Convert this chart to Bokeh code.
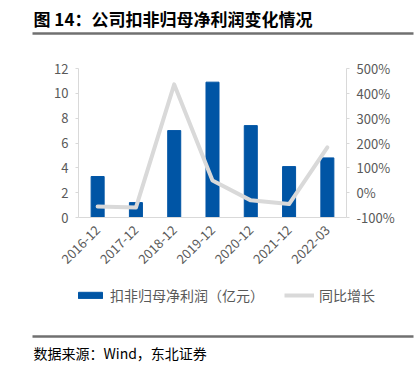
import math
from bokeh.plotting import figure
from bokeh.core.properties import value
from bokeh.models import (ColumnDataSource, FactorRange, Range1d, LinearAxis, Legend, LegendItem,
                          FixedTicker, NumeralTickFormatter)
from bokeh.embed import file_html
from bokeh.resources import INLINE

categories = ["2016-12", "2017-12", "2018-12", "2019-12", "2020-12", "2021-12", "2022-03"]
profit = [3.3, 1.2, 7.0, 10.9, 7.4, 4.1, 4.8]          # 扣非归母净利润（亿元）
growth = [-0.56, -0.60, 4.36, 0.49, -0.31, -0.46, 1.82]  # 同比增长
left_ticks = [0, 2, 4, 6, 8, 10, 12]
right_ticks = [-1, 0, 1, 2, 3, 4, 5]
series_names = ["扣非归母净利润（亿元）", "同比增长"]

title_text = "图 14：公司扣非归母净利润变化情况"
source_text = "数据来源：Wind，东北证券"

W = 415
FONT = "Noto Sans CJK SC"
GRAY = "#595959"
AXIS = "#d9d9d9"
RULE = "#707070"
BAR = "#0055a5"
LINE = "#d9d9d9"


def deco_figure(h):
    f = figure(width=W, height=h, x_range=Range1d(0, W), y_range=Range1d(h, 0),
               output_backend="svg", toolbar_location=None, min_border=0)
    f.axis.visible = False
    f.grid.visible = False
    f.outline_line_color = None
    f.border_fill_color = None
    f.background_fill_color = None
    return f


# header: title + rule (legend-style dummy keeps this figure laid out like the footer)
head = deco_figure(50)
head.text(x=[33], y=[18], text=[title_text], text_baseline="middle", text_align="left",
          text_font=value(FONT), text_font_style="bold", text_font_size="17px", text_color="#000000")
head.segment(x0=[32], y0=[33], x1=[413], y1=[33], line_color=RULE, line_width=2.5)

# main chart
src = ColumnDataSource(dict(cat=categories, profit=profit, growth=growth))

p = figure(frame_width=268, frame_height=149, x_range=FactorRange(*categories, range_padding=0),
           y_range=Range1d(0, 12), output_backend="svg", toolbar_location=None,
           min_border_left=78, min_border_right=W - 78 - 268, min_border_top=18, min_border_bottom=63)
p.outline_line_color = None
p.xgrid.visible = False
p.ygrid.visible = False
p.border_fill_color = None
p.background_fill_color = None

p.extra_y_ranges = {"pct": Range1d(-1, 5)}

p.vbar(x="cat", top="profit", width=0.34, source=src, color=BAR)
p.line(x="cat", y="growth", source=src, y_range_name="pct", line_color=LINE,
       line_width=4, line_join="round", line_cap="round")

p.yaxis[0].ticker = FixedTicker(ticks=left_ticks)

yr = LinearAxis(y_range_name="pct", ticker=FixedTicker(ticks=right_ticks),
                formatter=NumeralTickFormatter(format="0%"))
p.add_layout(yr, "right")

for ax in [p.yaxis[0], yr]:
    ax.axis_line_color = AXIS
    ax.major_tick_line_color = AXIS
    ax.major_tick_in = 0
    ax.major_tick_out = 3
    ax.minor_tick_line_color = None
    ax.major_label_text_color = GRAY
    ax.major_label_text_font = FONT
    ax.major_label_text_font_size = "13px"
    ax.major_label_standoff = 7

xa = p.xaxis[0]
xa.axis_line_color = AXIS
xa.major_tick_line_color = None
xa.minor_tick_line_color = None
xa.major_label_orientation = math.pi / 4
xa.major_label_text_color = GRAY
xa.major_label_text_font = FONT
xa.major_label_text_font_size = "13px"
xa.major_label_standoff = 4

# footer: legend key (hidden copies of the series feed the legend glyphs), rule, source
foot = deco_figure(86)
fsrc = ColumnDataSource(dict(v=profit, g=growth))
key_bar = foot.vbar(x="v", top="v", width=1, color=BAR, source=fsrc, visible=False)
key_line = foot.line(x="v", y="g", line_color=LINE, line_width=4, source=fsrc, visible=False)
legend = Legend(items=[LegendItem(label=series_names[0], renderers=[key_bar]),
                       LegendItem(label=series_names[1], renderers=[key_line])],
                orientation="horizontal", location=(75, 61), click_policy="none",
                border_line_color=None, background_fill_alpha=0,
                label_text_color=GRAY, label_text_font=FONT, label_text_font_size="14px",
                glyph_width=30, glyph_height=8, spacing=20, padding=0, margin=0,
                label_standoff=5)
foot.add_layout(legend)
foot.segment(x0=[32], y0=[56], x1=[413], y1=[56], line_color=RULE, line_width=2.5)
foot.text(x=[33], y=[72], text=[source_text], text_baseline="middle", text_align="left",
          text_font=value(FONT), text_font_size="14px", text_color="#000000")

open("out.html", "w").write(file_html([head, p, foot], INLINE))
